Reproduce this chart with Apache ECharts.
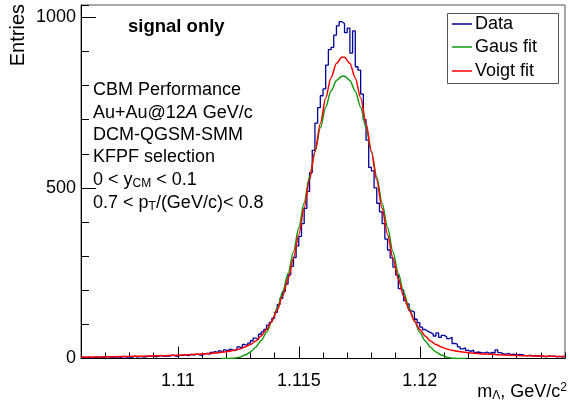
<!DOCTYPE html>
<html><head><meta charset="utf-8">
<script src="https://cdn.jsdelivr.net/npm/echarts@6/dist/echarts.min.js"></script>
<style>html,body{margin:0;padding:0;background:#fff}#c{width:570px;height:406px}</style>
</head><body><div id="c"></div>
<script>
// ---- data ----
const binStart = 1.106, binEnd = 1.126;
const dataCounts = [
  3,2,4,1,3,5,2,4,3,6,2,3,5,4,3,6,4,5,3,7,4,6,5,4,7,
  6,8,5,7,9,6,8,7,10,8,6,9,
  9,11,8,12,10,13,11,9,14,
  15,12,18,20,16,22,
  19,25,21,27,23,26,
  34,30,41,38,45,
  52,60,55,71,78,
  85,98,106,118,135,
  158,176,197,218,245,
  270,296,330,358,
  395,440,490,545,610,690,
  735,770,790,860,905,912,948,975,987,982,955,968,895,960,855,845,775,
  700,640,560,550,500,455,430,395,350,318,
  295,268,245,205,200,170,160,140,136,115,
  105,92,85,80,76,72,66,75,62,68,
  64,58,62,44,42,34,28,31,24,21,
  25,18,19,17,16,19,15,18,16,25,
  17,14,12,15,11,13,10,12,11,9,
  8,10,7,9,6,8,7,5,8,6,
  7,5,6,4,7
];
const gausX = [1.11178,1.11211,1.11233,1.11256,1.11278,1.11300,1.11322,1.11344,1.11367,1.11389,1.11411,1.11433,1.11456,1.11478,1.11500,1.11522,1.11544,1.11567,1.11589,1.11611,1.11633,1.11656,1.11678,
  1.11689,1.11711,1.11733,1.11756,1.11778,1.11800,1.11822,1.11844,1.11867,1.11889,1.11911,1.11933,1.11956,1.11978,1.12000,1.12022,1.12044,1.12067,1.12089,1.12111,1.12133,1.12156,1.12189];
const gausY = [0,0,1,4,10,19,33,52,77,109,148,195,250,313,383,456,532,606,676,736,784,815,827,
  827,815,784,736,676,606,532,456,383,313,250,195,148,109,77,52,33,19,10,4,1,0,0];
const voigtX = [1.10600,1.10656,1.10711,1.10767,1.10822,1.10878,1.10933,1.10989,1.11044,1.11100,1.11156,1.11189,1.11211,1.11233,1.11256,1.11278,1.11300,1.11322,1.11344,1.11367,1.11389,1.11411,1.11433,1.11456,1.11478,1.11500,1.11522,1.11544,1.11567,1.11589,1.11611,1.11633,1.11656,1.11678,
  1.11689,1.11711,1.11733,1.11756,1.11778,1.11800,1.11822,1.11844,1.11867,1.11889,1.11911,1.11933,1.11956,1.11978,1.12000,1.12022,1.12044,1.12067,1.12089,1.12111,1.12133,1.12156,1.12178,1.12211,1.12267,1.12322,1.12378,1.12433,1.12489,1.12544,1.12600];
const voigtY = [4.1,4.5,5.0,5.7,6.4,7.3,8.3,9.6,11.3,13.3,16.4,19,21,24,28,34,41,51,66,85,110,142,183,234,294,363,440,523,607,689,763,823,865,883,
  883,865,823,763,689,607,523,440,363,294,234,183,142,110,85,66,51,41,34,28,24,21,19,16.4,13.3,11.3,9.6,8.3,7.3,6.4,5.7];
const xTickLabels = [1.11, 1.115, 1.12];
const yTickLabels = [0, 500, 1000];
const legendNames = ['Data', 'Gaus fit', 'Voigt fit'];

// ---- build ----
const FONT = '"Liberation Sans", Arial, Helvetica, sans-serif';
const colors = ['#000099', '#119911', '#ff0000'];
const binWidth = (binEnd - binStart) / dataCounts.length;
const histPts = dataCounts.map((v, k) => [binStart + k * binWidth, v]);
histPts.push([binEnd, dataCounts[dataCounts.length - 1]]);
const gausPts = gausX.map((x, i) => [x, gausY[i]]);
const voigtPts = voigtX.map((x, i) => [x, voigtY[i]]);

const chart = echarts.init(document.getElementById('c'), null, {renderer: 'canvas'});
const axCol = '#000';
const textLines = [
  {t: 'CBM Performance', y: 90},
  {t: 'Au+Au@12{it|A} GeV/c', y: 113},
  {t: 'DCM-QGSM-SMM', y: 135},
  {t: 'KFPF selection', y: 157},
  {t: '0 < y{sub|CM} < 0.1', y: 180},
  {t: '0.7 < p{sub|T}/(GeV/c)< 0.8', y: 203}
];
const rich = {
  it: {fontStyle: 'italic', fontSize: 18, fontFamily: FONT, fill: '#000'},
  sub: {fontSize: 12, fontFamily: FONT, padding: [8, 0, 0, 0]},
  sup: {fontSize: 12, fontFamily: FONT, padding: [0, 0, 8, 0]}
};
const graphics = [];
graphics.push({type: 'text', left: 128, top: 17, style: {text: 'signal only', font: 'bold 18.5px ' + FONT, fill: '#000'}});
textLines.forEach(l => graphics.push({type: 'text', x: 93, y: l.y, style: {text: l.t, rich, font: '18px ' + FONT, fill: '#000', verticalAlign: 'middle', align: 'left'}}));
// legend box
graphics.push({type: 'rect', shape: {x: 447.5, y: 13.5, width: 111, height: 70}, style: {fill: '#fff', stroke: '#555', lineWidth: 1}, z: 10});
const legY = [24, 47, 71];
legendNames.forEach((n, i) => {
  graphics.push({type: 'line', shape: {x1: 452, y1: legY[i], x2: 472, y2: legY[i]}, style: {stroke: colors[i], lineWidth: 1.5}, z: 11});
  graphics.push({type: 'text', x: 475, y: legY[i], style: {text: n, font: '18px ' + FONT, fill: '#000', verticalAlign: 'middle'}, z: 11});
});
// axis titles
graphics.push({type: 'text', x: 18, y: 4, rotation: Math.PI / 2, style: {text: 'Entries', font: '20px ' + FONT, fill: '#000', align: 'right', verticalAlign: 'middle'}});
graphics.push({type: 'text', x: 567, y: 392, style: {text: 'm{sub|Λ}, GeV/c{sup|2}', rich, font: '18px ' + FONT, fill: '#000', align: 'right', verticalAlign: 'middle'}});

const option = {
  animation: false,
  backgroundColor: '#fff',
  grid: {left: 81, right: 5, top: 5, bottom: 47.5, show: true, borderColor: '#555', borderWidth: 1, containLabel: false},
  xAxis: [
    {type: 'value', min: 1.106, max: 1.126, interval: 0.001, position: 'bottom',
     axisLine: {show: true, lineStyle: {color: axCol}}, axisTick: {inside: true, length: 6, lineStyle: {color: axCol}},
     axisLabel: {show: false}, splitLine: {show: false}},
    {type: 'value', min: 1.106, max: 1.126, position: 'bottom',
     axisLine: {show: false}, axisTick: {inside: true, length: 12, customValues: xTickLabels, lineStyle: {color: axCol}},
     axisLabel: {customValues: xTickLabels, formatter: v => String(v), fontSize: 18, fontFamily: FONT, color: '#000', margin: 14},
     splitLine: {show: false}}
  ],
  yAxis: [
    {type: 'value', min: 0, max: 1036, interval: 100,
     axisLine: {show: true, lineStyle: {color: axCol}}, axisTick: {inside: true, length: 8, lineStyle: {color: axCol}},
     axisLabel: {show: false}, splitLine: {show: false}},
    {type: 'value', min: 0, max: 1036, position: 'left',
     axisLine: {show: false}, axisTick: {inside: true, length: 15, customValues: yTickLabels, lineStyle: {color: axCol}},
     axisLabel: {customValues: yTickLabels, formatter: v => String(v), fontSize: 18, fontFamily: FONT, color: '#000', margin: 5},
     splitLine: {show: false}}
  ],
  series: [
    {name: legendNames[0], type: 'line', data: histPts, step: 'end', showSymbol: false, symbol: 'none',
     lineStyle: {color: colors[0], width: 1.3}, z: 2},
    {name: legendNames[1], type: 'line', data: gausPts, smooth: 0.3, smoothMonotone: 'x', showSymbol: false, symbol: 'none',
     lineStyle: {color: colors[1], width: 1.5}, z: 3},
    {name: legendNames[2], type: 'line', data: voigtPts, smooth: 0.3, smoothMonotone: 'x', showSymbol: false, symbol: 'none',
     lineStyle: {color: colors[2], width: 1.5}, z: 4}
  ],
  graphic: graphics
};
chart.setOption(option);
</script></body></html>
